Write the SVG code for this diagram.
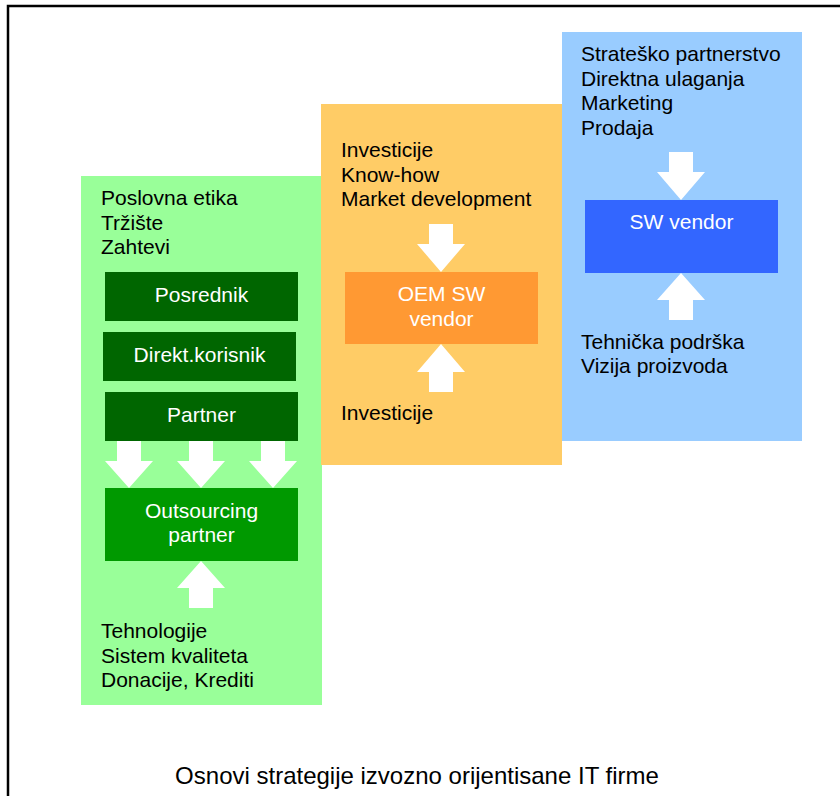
<svg xmlns="http://www.w3.org/2000/svg" width="840" height="796" viewBox="0 0 840 796">
<style>
text{font-family:"Liberation Sans",Arial,sans-serif;font-size:21px;fill:#000}
.w{fill:#fff;text-anchor:middle}
.arr{fill:#fff;stroke:none}
</style>
<rect x="0" y="0" width="840" height="796" fill="#fff"/>
<rect x="8" y="6" width="850" height="810" fill="none" stroke="#000" stroke-width="2.5"/>
<g id="panel-green">
<rect x="81" y="176" width="241" height="529" fill="#99FF99"/>
<text x="101" y="205">Poslovna etika</text>
<text x="101" y="229.5">Tržište</text>
<text x="101" y="254">Zahtevi</text>
<text x="101" y="638">Tehnologije</text>
<text x="101" y="662.5">Sistem kvaliteta</text>
<text x="101" y="687">Donacije, Krediti</text>
</g>
<g id="panel-orange">
<rect x="321" y="104" width="241" height="361" fill="#FFCC66"/>
<text x="341" y="157">Investicije</text>
<text x="341" y="181.5">Know-how</text>
<text x="341" y="206">Market development</text>
<text x="341" y="420">Investicije</text>
</g>
<g id="panel-blue">
<rect x="562" y="32" width="240" height="409" fill="#99CCFF"/>
<text x="581" y="61">Strateško partnerstvo</text>
<text x="581" y="85.5">Direktna ulaganja</text>
<text x="581" y="110">Marketing</text>
<text x="581" y="134.5">Prodaja</text>
<text x="581" y="349">Tehnička podrška</text>
<text x="581" y="373">Vizija proizvoda</text>
</g>
<g id="posrednik">
<rect x="105" y="272" width="193" height="49" fill="#006600"/>
<text class="w" x="201.5" y="302">Posrednik</text>
</g>
<g id="direkt-korisnik">
<rect x="103" y="332" width="193" height="49" fill="#006600"/>
<text class="w" x="199.5" y="362">Direkt.korisnik</text>
</g>
<g id="partner">
<rect x="105" y="392" width="193" height="49" fill="#006600"/>
<text class="w" x="201.5" y="422">Partner</text>
</g>
<g id="outsourcing-partner">
<rect x="105" y="488" width="193" height="73" fill="#009900"/>
<text class="w" x="201.5" y="518">Outsourcing</text>
<text class="w" x="201.5" y="542">partner</text>
</g>
<g id="oem-sw-vendor">
<rect x="345" y="272" width="193" height="72" fill="#FF9933"/>
<text class="w" x="441.5" y="301">OEM SW</text>
<text class="w" x="441.5" y="326">vendor</text>
</g>
<g id="sw-vendor">
<rect x="585" y="200" width="193" height="73" fill="#3366FF"/>
<text class="w" x="681.5" y="229">SW vendor</text>
</g>
<g id="connectors">
<polygon class="arr" points="117,441 141,441 141,461 153,461 129,488 105,461 117,461"/>
<polygon class="arr" points="189,441 213,441 213,461 225,461 201,488 177,461 189,461"/>
<polygon class="arr" points="261,441 285,441 285,461 297,461 273,488 249,461 261,461"/>
<polygon class="arr" points="189,608 213,608 213,588 225,588 201,561 177,588 189,588"/>
<polygon class="arr" points="429,224 453,224 453,244 465,244 441,272 417,244 429,244"/>
<polygon class="arr" points="429,392 453,392 453,372 465,372 441,344 417,372 429,372"/>
<polygon class="arr" points="669,152 693,152 693,172 705,172 681,200 657,172 669,172"/>
<polygon class="arr" points="669,320 693,320 693,300 705,300 681,273 657,300 669,300"/>
</g>
<text x="417" y="784" style="font-size:24px;text-anchor:middle">Osnovi strategije izvozno orijentisane IT firme</text>
</svg>
